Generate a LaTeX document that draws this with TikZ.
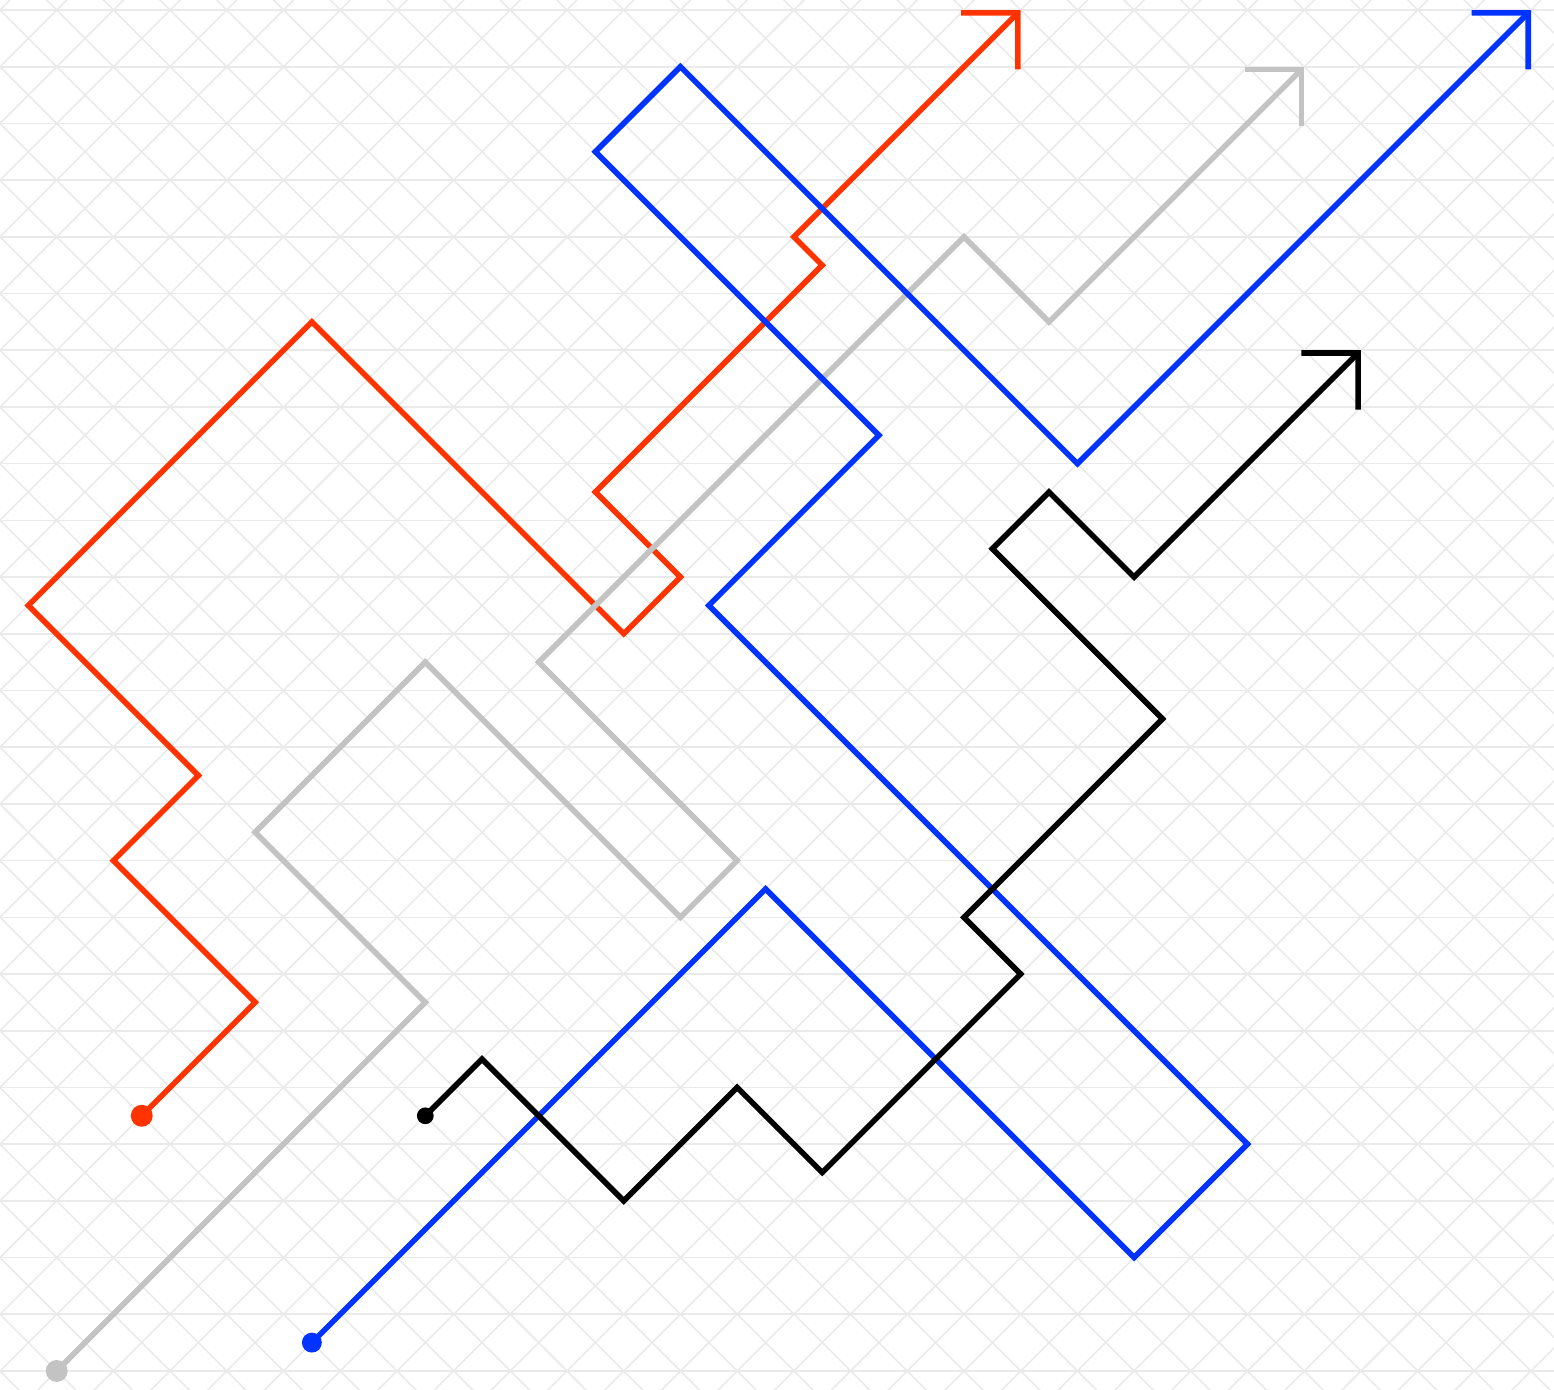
\documentclass[tikz,border=0pt]{standalone}
\usepackage{tikz}
\usetikzlibrary{arrows.meta}
\definecolor{WalkRed}{HTML}{FF3300}
\definecolor{WalkBlue}{HTML}{0033FF}
\definecolor{WalkGray}{HTML}{C3C3C3}
\definecolor{GridLine}{HTML}{EAEAEA}
\tikzset{
  walk/.style={line width=2.8pt, line cap=round,
    -{Straight Barb[length=0.707cm, width=1.414cm, line join=miter]}},
  gridline/.style={draw=GridLine, line width=0.8pt}
}
\begin{document}
\begin{tikzpicture}[x=0.5cm, y=-0.5cm]
  \useasboundingbox (0,-0.353) rectangle (54.81,48.64);
  % background lattice
  \begin{scope}
    \clip (0,-0.353) rectangle (54.81,48.64);
    \foreach \k in {0,...,24}
      \draw[gridline] (0,2*\k) -- (54.81,2*\k);
    \foreach \k in {-26,...,29}
      \draw[gridline] (2*\k-1,-1) -- ++(51,51);
    \foreach \k in {0,...,53}
      \draw[gridline] (2*\k+1,-1) -- ++(-51,51);
  \end{scope}
  % red walk
  \draw[walk, WalkRed] (5,39) -- (9,35) -- (4,30) -- (7,27) -- (1,21) -- (11,11)
    -- (22,22) -- (24,20) -- (21,17) -- (29,9) -- (28,8) -- (36,0);
  \fill[WalkRed] (5,39) circle (5.5pt);
  % gray walk
  \draw[walk, WalkGray] (2,48) -- (15,35) -- (9,29) -- (15,23) -- (24,32) -- (26,30)
    -- (19,23) -- (34,8) -- (37,11) -- (46,2);
  \fill[WalkGray] (2,48) circle (5.5pt);
  % blue walk
  \draw[walk, WalkBlue] (11,47) -- (27,31) -- (40,44) -- (44,40) -- (25,21) -- (31,15)
    -- (21,5) -- (24,2) -- (38,16) -- (54,0);
  \fill[WalkBlue] (11,47) circle (5pt);
  % black walk
  \draw[walk, black] (15,39) -- (17,37) -- (22,42) -- (26,38) -- (29,41) -- (36,34)
    -- (34,32) -- (41,25) -- (35,19) -- (37,17) -- (40,20) -- (48,12);
  \fill[black] (15,39) circle (4.2pt);
\end{tikzpicture}
\end{document}
